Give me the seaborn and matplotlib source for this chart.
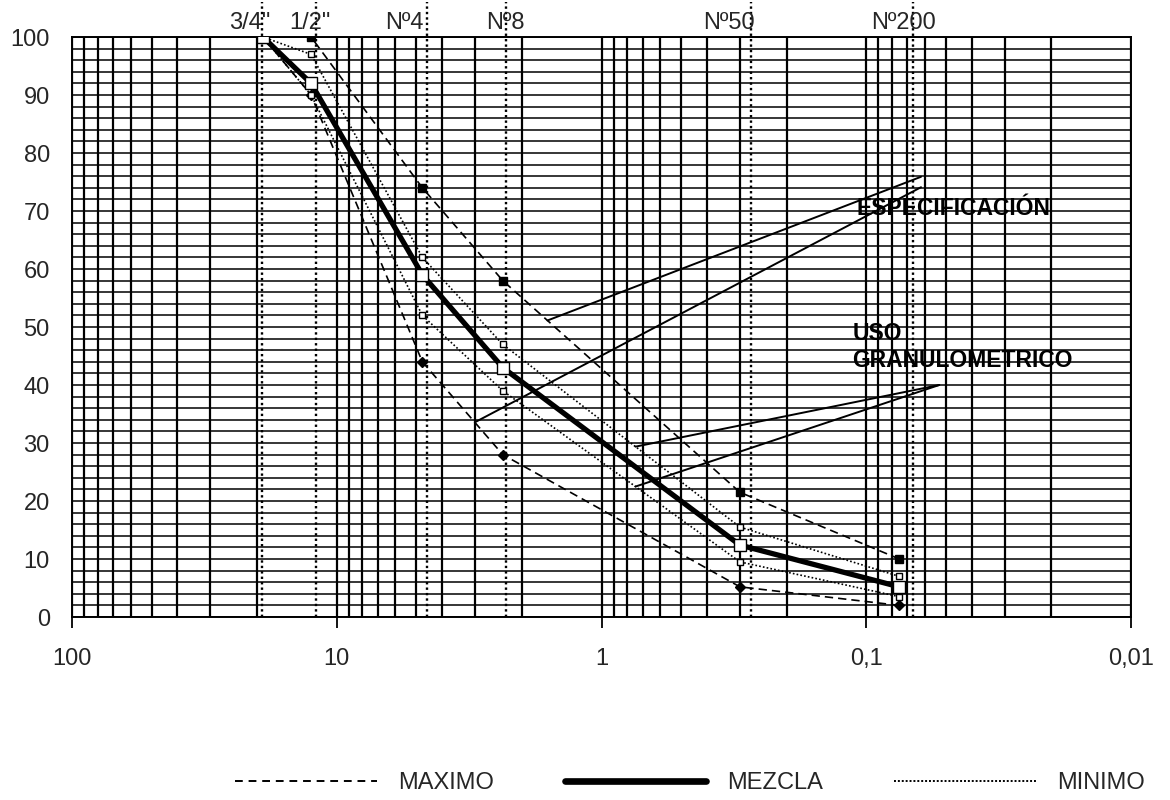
import numpy as np
import matplotlib
matplotlib.use("Agg")
import matplotlib.pyplot as plt
from matplotlib.lines import Line2D
from matplotlib.ticker import LogLocator, MultipleLocator, NullFormatter
import seaborn as sns

# Sieve openings (mm) and percent passing for each gradation curve
sieve_mm = [19.0, 12.5, 4.75, 2.36, 0.30, 0.075]
spec_max = [100, 100, 74, 58, 21.5, 10]
spec_min = [100, 90, 44, 28, 5.2, 2]
uso_max = [100, 97, 62, 47, 15.5, 7]
uso_min = [100, 90, 52, 39, 9.5, 3.5]
mezcla = [100, 92, 59, 43, 12.4, 5.2]

# Sieve names shown on top and where their guide lines sit (mm)
sieve_names = ['3/4"', '1/2"', 'Nº4', 'Nº8', 'Nº50', 'Nº200']
guide_mm = [19.2, 12.0, 4.58, 2.30, 0.272, 0.0665]

x_ticks = [100, 10, 1, 0.1, 0.01]
x_tick_labels = ['100', '10', '1', '0,1', '0,01']
legend_labels = ['MAXIMO', 'MEZCLA', 'MINIMO']

sns.set_theme(style="white")
plt.rcParams['font.family'] = ['Liberation Sans', 'DejaVu Sans']

W, H = 1170, 800
fig, ax = plt.subplots(figsize=(W / 100, H / 100), dpi=100)
fig.subplots_adjust(left=72 / W, right=1131 / W, bottom=1 - 617 / H, top=1 - 37 / H)

ax.set_xscale('log')

dash_style = (0, (5, 3))
dot_style = (0, (1, 1.3))

curves = [
    (spec_max, dict(lw=1.2, ls=dash_style, marker='s', ms=6, mfc='black')),
    (spec_min, dict(lw=1.2, ls=dash_style, marker='D', ms=5.5, mfc='black')),
    (uso_max, dict(lw=1.2, ls=dot_style, marker='s', ms=5, mfc='white')),
    (uso_min, dict(lw=1.2, ls=dot_style, marker='s', ms=5, mfc='white')),
    (mezcla, dict(lw=3.8, ls='-', marker='s', ms=9, mfc='white')),
]
for vals, kw in curves:
    sns.lineplot(x=sieve_mm, y=vals, ax=ax, color='black', mec='black', mew=1.0,
                 legend=False, zorder=4, **kw)

ax.set_xlim(100, 0.01)
ax.set_ylim(0, 100)

# Logarithmic grid: every integer multiple in each decade, 2 % steps vertically
ax.set_xticks(x_ticks)
ax.set_xticklabels(x_tick_labels)
ax.xaxis.set_minor_locator(LogLocator(base=10, subs=np.arange(2, 10)))
ax.xaxis.set_minor_formatter(NullFormatter())
ax.set_yticks(range(0, 101, 10))
ax.yaxis.set_minor_locator(MultipleLocator(2))
ax.grid(True, which='both', axis='x', color='black', lw=1.6)
ax.grid(True, which='both', axis='y', color='black', lw=1.1)
ax.set_axisbelow(True)

ax.tick_params(axis='x', which='major', length=8, width=1.3, color='black',
               direction='out', bottom=True, pad=14, labelsize=17)
ax.tick_params(axis='x', which='minor', length=0)
ax.tick_params(axis='y', which='both', length=0, pad=16, labelsize=17)
for sp in ax.spines.values():
    sp.set_color('black')
    sp.set_linewidth(1.4)

# Sieve guide lines and their names above the grid
ax.vlines(guide_mm, 0, 106, colors='black', linestyles=dot_style, lw=1.7,
          clip_on=False, zorder=3)
name_offsets = [-9, -4, -16, 0, -16, -7]
for g, name, dx in zip(guide_mm, sieve_names, name_offsets):
    ax.annotate(name, xy=(g, 1), xycoords=('data', 'axes fraction'),
                xytext=(dx, 2), textcoords='offset points',
                ha='center', va='bottom', fontsize=17, annotation_clip=False)


def passing_at(size, vals):
    """Percent passing on a curve at an arbitrary opening (log interpolation)."""
    return float(np.interp(-np.log10(size), -np.log10(sieve_mm), vals))


# Callout lines for the specification band and the used gradation
callouts = [
    ((1.60, passing_at(1.60, spec_max)), (0.0621, 75.9)),
    ((3.01, passing_at(3.01, spec_min)), (0.0621, 74.1)),
    ((0.744, passing_at(0.744, uso_max)), (0.053, 40)),
    ((0.744, passing_at(0.744, uso_min)), (0.053, 40)),
]
for (x0, y0), (x1, y1) in callouts:
    ax.plot([x0, x1], [y0, y1], color='black', lw=1.4, zorder=5)

ax.text(0.109, 70.5, 'ESPECIFICACIÓN', fontsize=16.5, fontweight='bold',
        color='black', ha='left', va='center', zorder=6)
ax.text(0.113, 46.5, 'USO\nGRANULOMETRICO', fontsize=16.5, fontweight='bold',
        color='black', ha='left', va='center', linespacing=1.2, zorder=6)

handles = [
    Line2D([], [], color='black', lw=1.4, ls=(0, (4, 3))),
    Line2D([], [], color='black', lw=4.8, ls='-'),
    Line2D([], [], color='black', lw=1.4, ls=(0, (1, 1))),
]
fig.legend(handles, legend_labels, loc='center', bbox_to_anchor=(690 / W, 1 - 783 / H),
           ncol=3, frameon=False, fontsize=17, handlelength=6.0, handletextpad=0.9,
           columnspacing=3.0)

fig.savefig('out.png', dpi=100, facecolor='white')
